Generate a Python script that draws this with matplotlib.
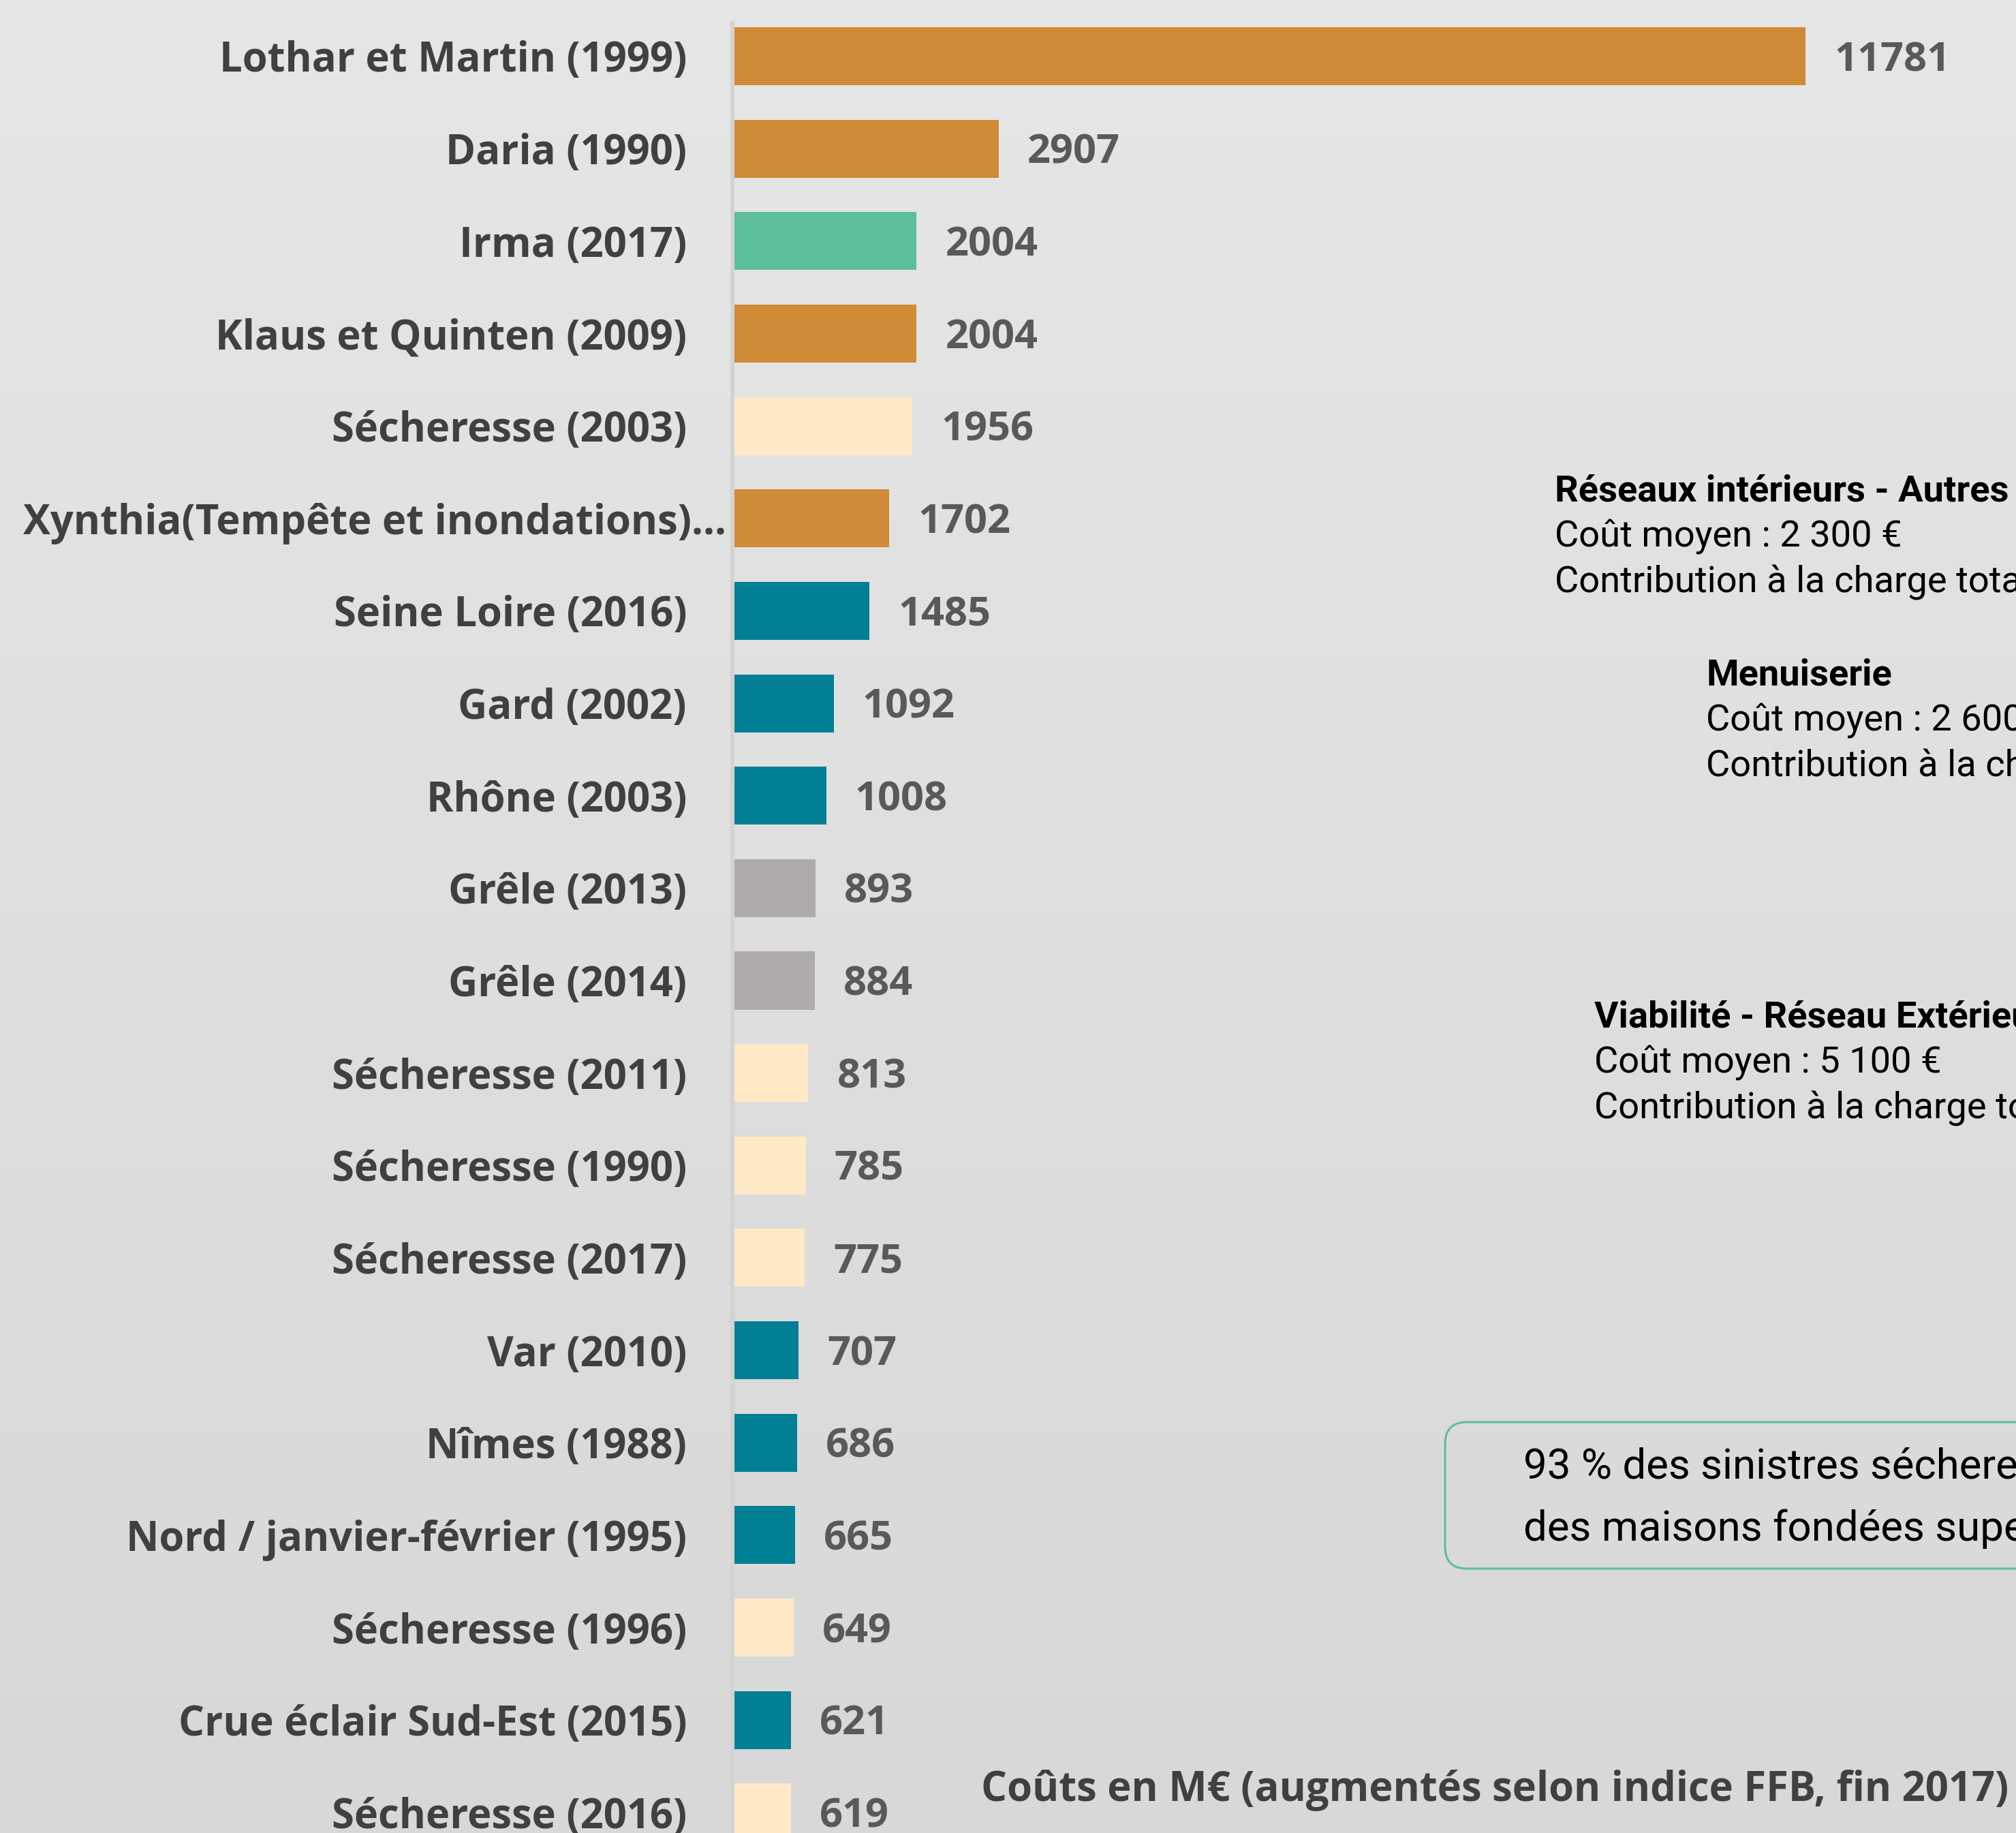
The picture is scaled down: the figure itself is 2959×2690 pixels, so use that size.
import numpy as np
import matplotlib.pyplot as plt
from matplotlib.colors import LinearSegmentedColormap
from matplotlib.patches import FancyBboxPatch
from matplotlib.transforms import ScaledTranslation

# --- data ---
events = ["Lothar et Martin (1999)", "Daria (1990)", "Irma (2017)", "Klaus et Quinten (2009)",
          "Sécheresse (2003)", "Xynthia(Tempête et inondations)...", "Seine Loire (2016)",
          "Gard (2002)", "Rhône (2003)", "Grêle (2013)", "Grêle (2014)", "Sécheresse (2011)",
          "Sécheresse (1990)", "Sécheresse (2017)", "Var (2010)", "Nîmes (1988)",
          "Nord / janvier-février (1995)", "Sécheresse (1996)", "Crue éclair Sud-Est (2015)",
          "Sécheresse (2016)"]
costs = [11781, 2907, 2004, 2004, 1956, 1702, 1485, 1092, 1008, 893, 884, 813,
         785, 775, 707, 686, 665, 649, 621, 619]
kinds = ["tempete", "tempete", "cyclone", "tempete", "secheresse", "tempete", "inondation",
         "inondation", "inondation", "grele", "grele", "secheresse", "secheresse", "secheresse",
         "inondation", "inondation", "inondation", "secheresse", "inondation", "secheresse"]
kind_colors = {"tempete": "#D08B37", "cyclone": "#5DBF98", "secheresse": "#FFE9C7",
               "inondation": "#007F95", "grele": "#AEABAA"}

notes = [
    ("Réseaux intérieurs - Autres lots", "Coût moyen : 2 300 €", "Contribution à la charge totale"),
    ("Menuiserie", "Coût moyen : 2 600 €", "Contribution à la charge totale"),
    ("Viabilité - Réseau Extérieur", "Coût moyen : 5 100 €", "Contribution à la charge totale"),
]
box_lines = ["93 % des sinistres sécheresse concernent", "des maisons fondées superficiellement"]
footer = "Coûts en M€ (augmentés selon indice FFB, fin 2017)"

W, H, DPI = 2959, 2690, 100
fig = plt.figure(figsize=(W / DPI, H / DPI), dpi=DPI)
renderer = fig.canvas.get_renderer()

LABEL_FONT = ["Open Sans", "DejaVu Sans"]
NOTE_FONT = ["Liberation Sans Narrow", "Roboto", "DejaVu Sans"]


def fit(text, target_px, **kw):
    # font size giving the wanted pixel width
    t = fig.text(0, 0, text, fontsize=20, **kw)
    w = t.get_window_extent(renderer).width
    t.remove()
    return 20 * target_px / w


lab_fs = fit("Lothar et Martin (1999)", 687, family=LABEL_FONT, weight="bold")
val_fs = fit("11781", 170, family=LABEL_FONT, weight="bold")
note_fs = fit("Coût moyen : 2 300 €", 508, family=NOTE_FONT)
box_fs = fit("des maisons fondées supe", 735, family=NOTE_FONT)

# background gradient
bg = fig.add_axes([0, 0, 1, 1], zorder=-10)
grad = LinearSegmentedColormap.from_list("bg", ["#E6E6E6", "#D8D8D8"])
bg.imshow(np.linspace(0, 1, 256).reshape(-1, 1), aspect="auto", cmap=grad,
          extent=[0, 1, 0, 1])
bg.axis("off")

# bar chart
px_per_unit = 1572 / 11781
left_px, top_px, first_px, step_px = 1075, 34, 82.5, 135.65
ax = fig.add_axes([left_px / W, 0, 1 - left_px / W, (H - top_px) / H])
ax.set_facecolor("none")
y = np.arange(len(events))
ax.barh(y, costs, height=0.627, color=[kind_colors[k] for k in kinds])
for yi, v in zip(y, costs):
    ax.text(v + 42 / px_per_unit, yi + 0.045, str(v), va="center", ha="left",
            fontsize=val_fs, fontweight="bold", color="#595959", family=LABEL_FONT)

ax.set_xlim(-3 / px_per_unit, (W - left_px - 3) / px_per_unit)
ax.set_ylim((H - first_px) / step_px, -(first_px - top_px) / step_px)
ax.set_yticks(y)
ax.set_yticklabels(events, fontsize=lab_fs, fontweight="bold", color="#404040",
                   family=LABEL_FONT)
ax.tick_params(axis="y", length=0, pad=67 * 72 / DPI)
ax.set_xticks([])
for s in ["top", "right", "bottom"]:
    ax.spines[s].set_visible(False)
ax.spines["left"].set_color("#D3D3D3")
ax.spines["left"].set_linewidth(6 * 72 / DPI)

# the truncated Xynthia label sits closer to the axis
xl = ax.get_yticklabels()[5]
xl.set_transform(xl.get_transform() + ScaledTranslation(58 / DPI, 0, fig.dpi_scale_trans))

# side notes
note_pos = [(2282, 721), (2504, 991), (2340, 1493)]
for (x0, y0), (title, l1, l2) in zip(note_pos, notes):
    fig.text(x0 / W, 1 - y0 / H, title, fontsize=note_fs, fontweight="bold",
             family=NOTE_FONT, va="center", color="black")
    fig.text(x0 / W, 1 - (y0 + 67) / H, l1, fontsize=note_fs, family=NOTE_FONT,
             va="center", color="black")
    fig.text(x0 / W, 1 - (y0 + 134) / H, l2, fontsize=note_fs, family=NOTE_FONT,
             va="center", color="black")

# framed remark
box = FancyBboxPatch((2121 / DPI, (H - 2302) / DPI), 1200 / DPI, 215 / DPI,
                     boxstyle="round,pad=0,rounding_size=0.32",
                     transform=fig.dpi_scale_trans, facecolor="none",
                     edgecolor="#5DBF98", linewidth=2.2)
fig.add_artist(box)
fig.text(2236 / W, 1 - 2153 / H, box_lines[0], fontsize=box_fs, family=NOTE_FONT,
         va="center", color="black")
fig.text(2236 / W, 1 - 2244 / H, box_lines[1], fontsize=box_fs, family=NOTE_FONT,
         va="center", color="black")

fig.text(2948 / W, 1 - 2627 / H, footer, fontsize=lab_fs, fontweight="bold",
         family=LABEL_FONT, color="#404040", ha="right", va="center")

fig.savefig("out.png", dpi=DPI)
